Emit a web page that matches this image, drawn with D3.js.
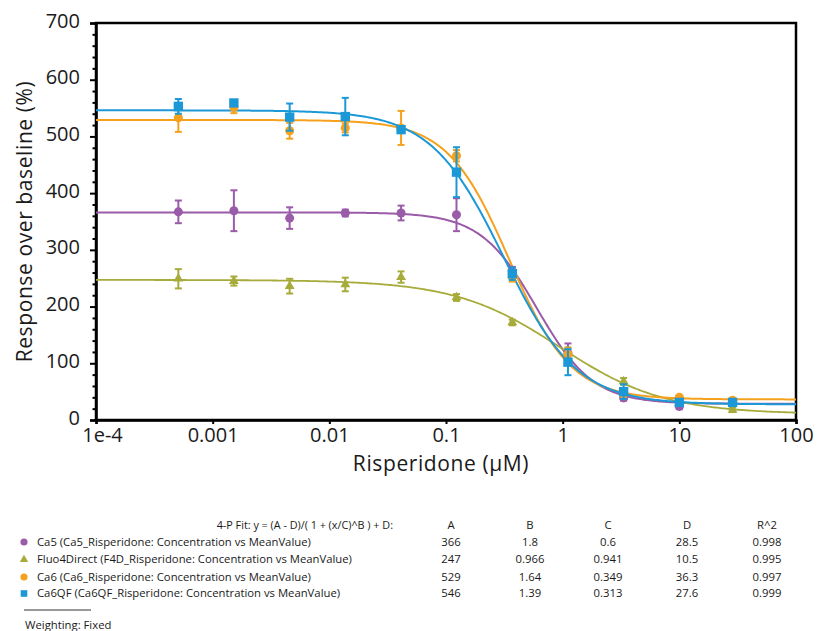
<!DOCTYPE html>
<html>
<head>
<meta charset="utf-8">
<script src="https://cdn.jsdelivr.net/npm/d3@7"></script>
<style>
  body { margin: 0; background: #fff; }
  svg text { font-family: "Open Sans", "Lato", sans-serif; fill: #1a1a1a; }
</style>
</head>
<body>
<svg id="chart" width="822" height="631"></svg>
<script>
// Risperidone concentration (µM) for each well
const concentrations = [0.000508, 0.00152, 0.00457, 0.0137, 0.0412, 0.123, 0.370, 1.11, 3.33, 10.0, 28.6];

// Mean response over baseline (%) and error per indicator
const ca5Mean   = [367, 369, 356, 365, 365, 362, 262, 118, 39, 24, 30];
const ca5Err    = [20, 36, 19, 6, 13, 29, 8, 17, 5, 5, 4];
const f4dMean   = [249, 245, 236, 239, 252, 216, 172, 118, 68, 30, 18];
const f4dErr    = [17, 8, 13, 12, 10, 6, 5, 10, 6, 4, 4];
const ca6Mean   = [533, 551, 510, 515, 515, 466, 252, 116, 46, 40, 35];
const ca6Err    = [25, 10, 14, 8, 30, 10, 8, 10, 5, 3, 3];
const ca6qfMean = [553, 559, 534, 535, 512, 437, 258, 102, 50, 31, 31];
const ca6qfErr  = [13, 5, 24, 33, 5, 44, 11, 23, 13, 4, 4];

// Series labels and 4-parameter logistic fit results
const seriesNames   = ["Ca5", "Fluo4Direct", "Ca6", "Ca6QF"];
const seriesSources = ["Ca5_Risperidone", "F4D_Risperidone", "Ca6_Risperidone", "Ca6QF_Risperidone"];
const fitA  = [366, 247, 529, 546];
const fitB  = [1.8, 0.966, 1.64, 1.39];
const fitC  = [0.6, 0.941, 0.349, 0.313];
const fitD  = [28.5, 10.5, 36.3, 27.6];
const fitR2 = [0.998, 0.995, 0.997, 0.999];

// Axis ticks
const xTicks = [1e-4, 0.001, 0.01, 0.1, 1, 10, 100];
const xTickLabels = ["1e-4", "0.001", "0.01", "0.1", "1", "10", "100"];
const yTicks = [0, 100, 200, 300, 400, 500, 600, 700];

const colors  = ["#9a5ba8", "#a7ab3a", "#f6a11d", "#1c98d6"];
const symbols = [d3.symbolCircle, d3.symbolTriangle, d3.symbolCircle, d3.symbolSquare];
const symbolSizes = [64, 42, 64, 88];
const means = [ca5Mean, f4dMean, ca6Mean, ca6qfMean];
const errs  = [ca5Err, f4dErr, ca6Err, ca6qfErr];

const svg = d3.select("#chart");
const plot = { left: 96, right: 796, top: 23, bottom: 420 };

const x = d3.scaleLog().domain([1e-4, 100]).range([plot.left, plot.right]);
const y = d3.scaleLinear().domain([0, 700]).range([plot.bottom, plot.top]);

// Frame
svg.append("rect")
  .attr("x", plot.left).attr("y", plot.top)
  .attr("width", plot.right - plot.left).attr("height", plot.bottom - plot.top)
  .attr("fill", "none").attr("stroke", "#000").attr("stroke-width", 2.5);

// Y axis: minor ticks every 20, major every 100
const yMinor = d3.range(0, 701, 20).filter(v => v % 100 !== 0);
svg.append("g")
  .attr("transform", `translate(${plot.left},0)`)
  .call(d3.axisLeft(y).tickValues(yMinor).tickSize(3.5).tickFormat(""))
  .call(g => g.select(".domain").remove())
  .call(g => g.selectAll("line").attr("stroke", "#000").attr("stroke-width", 2));

const yAxis = svg.append("g")
  .attr("transform", `translate(${plot.left},0)`)
  .call(d3.axisLeft(y).tickValues(yTicks).tickSize(6).tickPadding(10));
yAxis.select(".domain").attr("stroke", "#000").attr("stroke-width", 2.5);
yAxis.selectAll("line").attr("stroke", "#000").attr("stroke-width", 2);
yAxis.selectAll("text")
  .attr("dy", "0.2em")
  .style("font-family", '"Open Sans", sans-serif')
  .style("font-size", "20px").style("fill", "#1a1a1a");

// X axis
const xAxis = svg.append("g")
  .attr("transform", `translate(0,${plot.bottom})`)
  .call(d3.axisBottom(x).tickValues(xTicks).tickSize(4).tickPadding(4)
    .tickFormat((d, i) => xTickLabels[i]));
xAxis.select(".domain").attr("stroke", "#000").attr("stroke-width", 2.5);
xAxis.selectAll("line").attr("stroke", "#000").attr("stroke-width", 2);
xAxis.selectAll("text")
  .style("font-family", '"Open Sans", sans-serif')
  .style("font-size", "20px").style("fill", "#1a1a1a");
// first label sits just right of the corner so it clears the "0"
xAxis.selectAll("text").filter((d, i) => i === 0).attr("dx", 6);

// Axis titles
svg.append("text")
  .attr("transform", `translate(32,${(plot.top + plot.bottom) / 2}) rotate(-90)`)
  .attr("text-anchor", "middle")
  .style("font-size", "21px").style("letter-spacing", "0.6px")
  .text("Response over baseline (%)");

svg.append("text")
  .attr("x", 441).attr("y", 471)
  .attr("text-anchor", "middle")
  .style("font-size", "21px").style("letter-spacing", "0.6px")
  .text("Risperidone (µM)");

// Fitted 4PL curves
const logSamples = d3.range(0, 401).map(i => Math.pow(10, -4 + 6 * i / 400));
const fitCurve = s => logSamples.map(c => [c, (fitA[s] - fitD[s]) / (1 + Math.pow(c / fitC[s], fitB[s])) + fitD[s]]);
const line = d3.line().x(d => x(d[0])).y(d => y(d[1]));

svg.append("clipPath").attr("id", "plotClip")
  .append("rect").attr("x", plot.left).attr("y", plot.top)
  .attr("width", plot.right - plot.left).attr("height", plot.bottom - plot.top);

const curves = svg.append("g").attr("clip-path", "url(#plotClip)");
seriesNames.forEach((name, s) => {
  curves.append("path")
    .datum(fitCurve(s))
    .attr("d", line)
    .attr("fill", "none")
    .attr("stroke", colors[s])
    .attr("stroke-width", s === 1 ? 1.8 : 2);
});

// Data points with error bars
const capHalf = 3.5;
seriesNames.forEach((name, s) => {
  const g = svg.append("g");
  const pts = concentrations.map((c, i) => ({ c, m: means[s][i], e: errs[s][i] }));
  const bars = g.selectAll(".eb").data(pts).join("g")
    .attr("stroke", colors[s]).attr("stroke-width", 2);
  bars.append("line")
    .attr("x1", d => x(d.c)).attr("x2", d => x(d.c))
    .attr("y1", d => y(d.m + d.e)).attr("y2", d => y(d.m - d.e));
  bars.append("line")
    .attr("x1", d => x(d.c) - capHalf).attr("x2", d => x(d.c) + capHalf)
    .attr("y1", d => y(d.m + d.e)).attr("y2", d => y(d.m + d.e));
  bars.append("line")
    .attr("x1", d => x(d.c) - capHalf).attr("x2", d => x(d.c) + capHalf)
    .attr("y1", d => y(d.m - d.e)).attr("y2", d => y(d.m - d.e));
  g.selectAll(".pt").data(pts).join("path")
    .attr("transform", d => `translate(${x(d.c)},${y(d.m)})`)
    .attr("d", d3.symbol().type(symbols[s]).size(symbolSizes[s]))
    .attr("fill", colors[s]);
});

// Fit results table
const table = svg.append("g").style("font-size", "11.3px");
const colX = [451, 530, 608, 687, 767];
const colHeads = ["A", "B", "C", "D", "R^2"];
const headY = 525;
const rowY = [542, 559.5, 577, 593.5];

table.append("text")
  .attr("x", 393).attr("y", headY).attr("dy", "0.35em")
  .attr("text-anchor", "end")
  .style("font-size", "10.8px")
  .text("4-P Fit: y = (A - D)/( 1 + (x/C)^B ) + D:");

colHeads.forEach((h, j) => {
  table.append("text")
    .attr("x", colX[j]).attr("y", headY).attr("dy", "0.35em")
    .attr("text-anchor", "middle").text(h);
});

seriesNames.forEach((name, s) => {
  table.append("path")
    .attr("transform", `translate(24,${rowY[s]})`)
    .attr("d", d3.symbol().type(symbols[s]).size(s === 3 ? 44 : (s === 1 ? 30 : 40)))
    .attr("fill", colors[s]);
  table.append("text")
    .attr("x", 37).attr("y", rowY[s]).attr("dy", "0.35em")
    .text(`${name} (${seriesSources[s]}: Concentration vs MeanValue)`);
  [fitA[s], fitB[s], fitC[s], fitD[s], fitR2[s]].forEach((v, j) => {
    table.append("text")
      .attr("x", colX[j]).attr("y", rowY[s]).attr("dy", "0.35em")
      .attr("text-anchor", "middle").text(String(v));
  });
});

table.append("line")
  .attr("x1", 24).attr("x2", 91).attr("y1", 610).attr("y2", 610)
  .attr("stroke", "#333").attr("stroke-width", 1);

table.append("text")
  .attr("x", 25).attr("y", 625).attr("dy", "0.35em")
  .text("Weighting: Fixed");
</script>
</body>
</html>
